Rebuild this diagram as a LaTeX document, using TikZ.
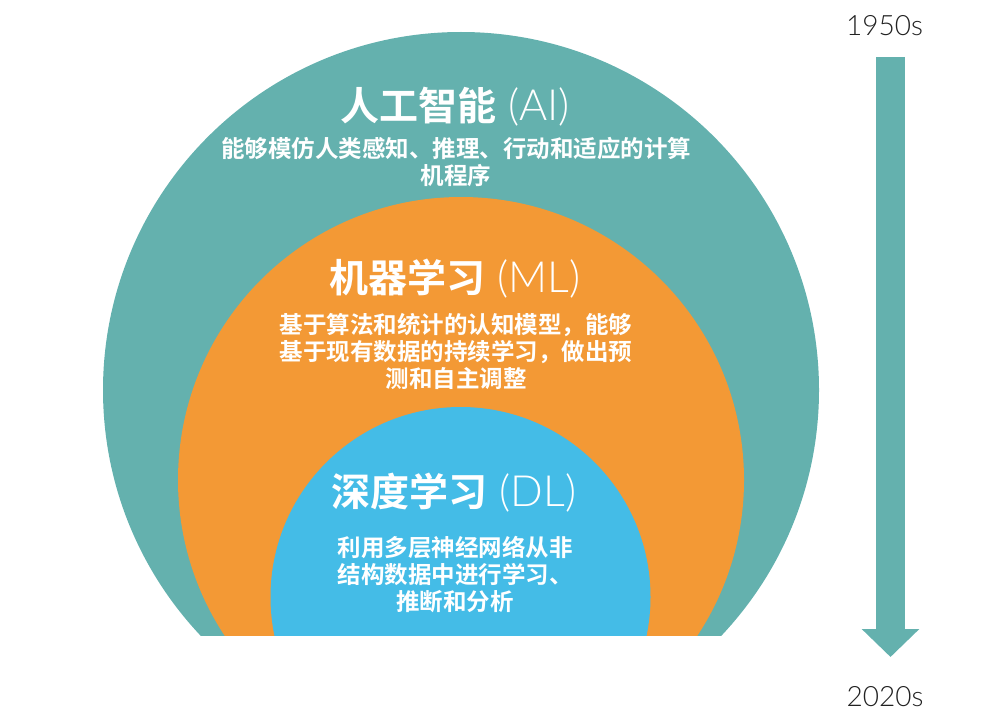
\documentclass[tikz,border=0pt]{standalone}
\usepackage{fontspec}
\usepackage{xcolor}
\usepackage{tikz}
\usetikzlibrary{
    arrows.meta,
    positioning
}
\setmainfont{Lato Light}
\newfontfamily\cjk{Noto Sans CJK SC Bold}
\definecolor{aiteal}{HTML}{64B1AE}
\definecolor{mlorange}{HTML}{F39935}
\definecolor{dlblue}{HTML}{44BCE7}
\definecolor{eratext}{HTML}{222222}

\begin{document}
\begin{tikzpicture}[x=1pt,y=-1pt]
    \tikzstyle{field}=[circle, inner sep=0pt, draw=none]
    \tikzstyle{title}=[text=white, inner sep=0pt, font=\fontsize{43}{48}\selectfont]
    \tikzstyle{blurb}=[text=white, inner sep=0pt, align=center, font=\cjk\fontsize{23.5}{27}\selectfont]
    \tikzstyle{era}=[text=eratext, inner sep=0pt, font=\fontsize{28}{32}\selectfont]
    \tikzstyle{timeline}=[draw=aiteal, line width=29pt, -{Triangle[width=56pt,length=28pt]}]

    \useasboundingbox (0,0) rectangle (1000,722);
    \begin{scope}
        \clip (0,0) rectangle (1000,635);
        \node[field, fill=aiteal, minimum size=716pt] (AI) at (461,390) {};
        \node[field, fill=mlorange, minimum size=566pt] (ML) at (461,480) {};
        \node[field, fill=dlblue, minimum size=380pt] (DL) at (460.5,597) {};
    \end{scope}

    \node[title] (AItitle) at (455,107) {{\cjk\fontsize{39}{44}\selectfont 人工智能} (AI)};
    \node[blurb] (AItext) at (456,161.5) {能够模仿人类感知、推理、行动和适应的计算\\机程序};

    \node[title] (MLtitle) at (455,279) {{\cjk\fontsize{39}{44}\selectfont 机器学习} (ML)};
    \node[blurb] (MLtext) at (456,351) {基于算法和统计的认知模型，能够\\基于现有数据的持续学习，做出预\\测和自主调整};

    \node[title] (DLtitle) at (454,493) {{\cjk\fontsize{39}{44}\selectfont 深度学习} (DL)};
    \node[blurb] (DLtext) at (455,575) {利用多层神经网络从非\\结构数据中进行学习、\\推断和分析};

    \node[era] (y1950) at (884.5,25.5) {1950s};
    \node[era] (y2020) at (885,696.5) {2020s};
    \coordinate (past) at (890.5,57);
    \coordinate (now) at (890.5,657);
    \draw[timeline] (past) -- (now);
\end{tikzpicture}
\end{document}
